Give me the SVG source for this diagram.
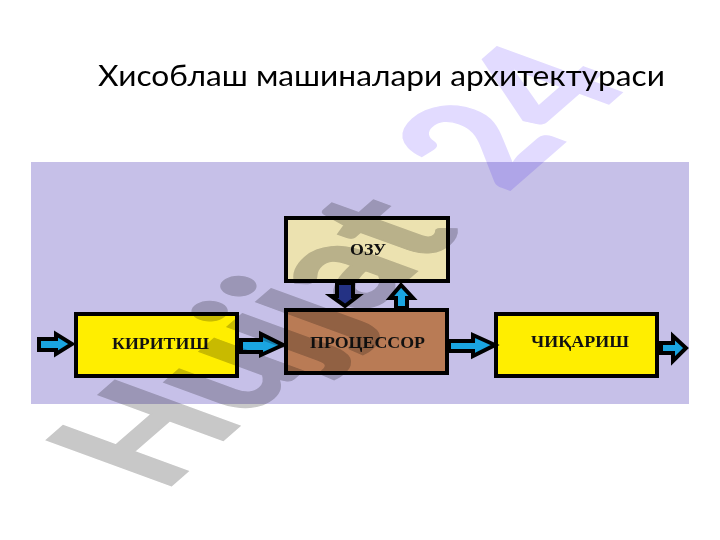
<svg xmlns="http://www.w3.org/2000/svg" width="720" height="540" viewBox="0 0 720 540">
<style>
.box{stroke:#000;stroke-width:4}
.lbl{font-family:"Liberation Serif",serif;font-weight:bold;font-size:17px;fill:#111}
.arr{stroke:#000;stroke-width:4;stroke-linejoin:miter;fill:#1aa5e0}
.wm{font-family:Lato,"Liberation Sans",sans-serif;font-weight:900;font-size:100px;mix-blend-mode:multiply;stroke-width:1}
</style>
<rect width="720" height="540" fill="#fff"/>
<text id="title" x="98" y="86" font-family="Lato,'Open Sans',sans-serif" font-size="29" fill="#000" textLength="567" lengthAdjust="spacingAndGlyphs">Хисоблаш машиналари архитектураси</text>
<rect id="panel" x="31" y="162" width="658" height="242" fill="#c6c0e8"/>
<g id="node-ozu"><rect class="box" x="286" y="218" width="162" height="63" fill="#ece2b0"/><text class="lbl" x="350" y="255" textLength="36" lengthAdjust="spacingAndGlyphs">ОЗУ</text></g>
<g id="node-processor"><rect class="box" x="286" y="310" width="161" height="63" fill="#b97b55"/><text class="lbl" x="310" y="348" textLength="115" lengthAdjust="spacingAndGlyphs">ПРОЦЕССОР</text></g>
<g id="node-input"><rect class="box" x="76" y="314" width="161" height="62" fill="#ffee00"/><text class="lbl" x="112" y="349" textLength="97" lengthAdjust="spacingAndGlyphs">КИРИТИШ</text></g>
<g id="node-output"><rect class="box" x="496" y="314" width="161" height="62" fill="#ffee00"/><text class="lbl" x="531" y="347" textLength="98" lengthAdjust="spacingAndGlyphs">ЧИҚАРИШ</text></g>
<g id="connectors">
<polygon class="arr" points="39,339 56,339 56,334 72,344 56,354 56,350 39,350"/>
<polygon class="arr" points="241,340 261,340 261,334 283,345 261,355 261,352 241,352"/>
<polygon class="arr" points="449,341 473,341 473,335 495,345 473,356 473,351 449,351"/>
<polygon class="arr" points="661,343 673,343 673,336 686,348 673,361 673,353 661,353"/>
<polygon class="arr" style="fill:#2e3fa8" points="337,283 353,283 353,296 358,296 345,306 331,296 337,296"/>
<polygon class="arr" points="396,308 396,298 390,298 401,285 413,298 407,298 407,308"/>
</g>
<g id="watermark">
<text class="wm" transform="matrix(1.1 -0.96 1.72 0.63 163 493)"><tspan fill="#c8c8c8" stroke="#c8c8c8">Hujjat </tspan><tspan dx="15" fill="#e2dbff" stroke="#e2dbff">24</tspan></text>
</g>
</svg>
